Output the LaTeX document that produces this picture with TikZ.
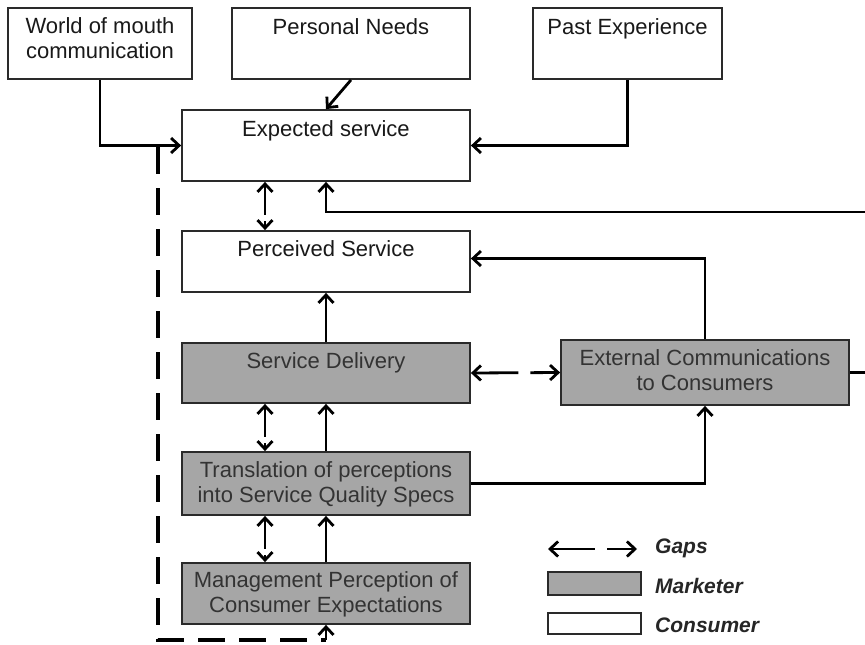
\documentclass[tikz,border=0pt]{standalone}
\usepackage{fontspec}
\setmainfont{Liberation Sans}
\usetikzlibrary{arrows.meta}
\definecolor{mgray}{HTML}{A6A6A6}
\definecolor{edge}{HTML}{2A2A2A}
\begin{document}
\begin{tikzpicture}[x=1pt,y=-1pt,
  every node/.style={font=\fontsize{22}{25}\selectfont},
  >={Straight Barb[length=8pt,width=15pt]},
  consumer/.style={draw=edge, line width=1.8pt, fill=white, inner sep=0pt},
  marketer/.style={consumer, fill=mgray},
  boxtxt/.style={inner sep=0pt, align=center, anchor=north, text=black!90},
  mtxt/.style={boxtxt, text=black!80},
  legtxt/.style={inner sep=0pt, anchor=west, text=black!85,
    font=\fontsize{21}{24}\selectfont\bfseries\itshape},
  conn/.style={draw=black, line width=2.8pt, ->},
  gapv/.style={draw=black, line width=2.8pt, <->, dash pattern=on 30pt off 6pt},
  gaph/.style={draw=black, line width=2.8pt, <->, dash pattern=on 44pt off 12pt},
  bigdash/.style={draw=black, line width=3.2pt, dash pattern=on 27pt off 14pt}
]
\useasboundingbox (0,0) rectangle (865,645);
\clip (0,0) rectangle (865,645);
\fill[white] (0,0) rectangle (865,645);

% consumer side
\node[consumer, minimum width=184pt, minimum height=71pt] (wom) at (100,43.5) {};
\node[boxtxt] (womT) at ([yshift=-10pt]wom.north) {World of mouth\\communication};
\node[consumer, minimum width=238pt, minimum height=71pt] (pn) at (351,43.5) {};
\node[boxtxt] (pnT) at ([yshift=-11pt]pn.north) {Personal Needs};
\node[consumer, minimum width=189pt, minimum height=71pt] (pe) at (627.5,43.5) {};
\node[boxtxt] (peT) at ([yshift=-11pt]pe.north) {Past Experience};

\node[consumer, minimum width=288pt, minimum height=71pt] (exp) at (326,145.5) {};
\node[boxtxt] (expT) at ([yshift=-11pt]exp.north) {Expected service};
\node[consumer, minimum width=288pt, minimum height=61pt] (per) at (326,261.5) {};
\node[boxtxt] (perT) at ([yshift=-10pt]per.north) {Perceived Service};

% marketer side
\node[marketer, minimum width=288pt, minimum height=60pt] (sd) at (326,373) {};
\node[mtxt] (sdT) at ([yshift=-10pt]sd.north) {Service Delivery};
\node[marketer, minimum width=288pt, minimum height=65pt] (ext) at (705,372.5) {};
\node[mtxt] (extT) at ([yshift=-10pt]ext.north) {External Communications\\to Consumers};
\node[marketer, minimum width=288pt, minimum height=63pt] (tr) at (326,483.5) {};
\node[mtxt] (trT) at ([yshift=-10pt]tr.north) {Translation of perceptions\\into Service Quality Specs};
\node[marketer, minimum width=288pt, minimum height=61pt] (mg) at (326,593.5) {};
\node[mtxt] (mgT) at ([yshift=-9pt]mg.north) {Management Perception of\\Consumer Expectations};

% influences on expected service
\draw[conn] (wom.south) |- (exp.west);
\draw[conn] (pn.south) -- (exp.north);
\draw[conn] (pe.south) |- (exp.east);

% feedback from external communications
\coordinate (rt) at (885,212);
\draw[conn] (ext.east) -| (rt) -| (exp.south);
\draw[conn] (ext.north) |- ([yshift=3pt]per.east);

% delivery chain
\draw[conn] (sd.north) -- (per.south);
\draw[conn] (tr.north) -- (sd.south);
\draw[conn] (mg.north) -- (tr.south);
\draw[conn] (tr.east) -| (ext.south);

% gaps
\draw[gapv] ([xshift=-61pt]exp.south) -- ([xshift=-61pt]per.north);
\draw[gapv] ([xshift=-61pt]sd.south) -- ([xshift=-61pt]tr.north);
\draw[gapv] ([xshift=-61pt]tr.south) -- ([xshift=-61pt]mg.north);
\draw[gaph] (sd.east) -- (ext.west);

% gap between expected service and management perception
\coordinate (dtop) at (158,147);
\coordinate (dbot) at (158,640);
\coordinate (dend) at (326,640);
\draw[bigdash] (dtop) -- (dbot) -- (dend);
\draw[conn] (dend) -- (mg.south);

% legend
\coordinate (lgA) at (548,549);
\coordinate (lgB) at (637,549);
\draw[gaph] (lgA) -- (lgB);
\node[legtxt] (lgGaps) at (655,548) {Gaps};
\node[marketer, minimum width=93pt, minimum height=23pt] (lgM) at (594.5,583.5) {};
\node[legtxt] (lgMT) at (655,586) {Marketer};
\node[consumer, minimum width=93pt, minimum height=21pt] (lgC) at (594.5,623.5) {};
\node[legtxt] (lgCT) at (655,625) {Consumer};
\end{tikzpicture}
\end{document}
